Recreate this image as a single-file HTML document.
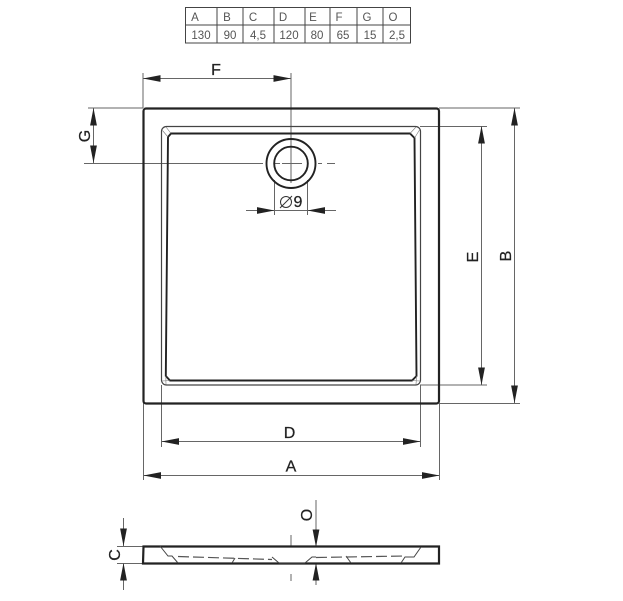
<!DOCTYPE html>
<html>
<head>
<meta charset="utf-8">
<style>
html,body{margin:0;padding:0;background:#fff;width:623px;height:601px;overflow:hidden}
svg{display:block}
text{font-family:"Liberation Sans",sans-serif}
.t{font-size:11.5px;fill:#555;text-anchor:middle}
.l{font-size:16px;fill:#222;stroke:#222;stroke-width:.25;text-anchor:middle}
</style>
</head>
<body>
<svg width="623" height="601" viewBox="0 0 623 601" xmlns="http://www.w3.org/2000/svg">
<defs>
<path id="ar" d="M0 0L17.5 -3.4L17.5 3.4Z" fill="#222"/>
</defs>

<!-- table -->
<g fill="none" stroke="#444" stroke-width="1">
<rect x="185.500" y="7.500" width="225" height="35.500"/>
<path d="M185.500 25H410.500M217 7.500V43M243 7.500V43M274 7.500V43M305 7.500V43M330 7.500V43M357 7.500V43M383 7.500V43"/>
</g>
<g>
<text class="t" x="195" y="21">A</text><text class="t" x="227" y="21">B</text><text class="t" x="253" y="21">C</text><text class="t" x="283" y="21">D</text><text class="t" x="313" y="21">E</text><text class="t" x="339" y="21">F</text><text class="t" x="367" y="21">G</text><text class="t" x="393" y="21">O</text>
<text class="t" x="201" y="39">130</text><text class="t" x="230" y="39">90</text><text class="t" x="258" y="39">4,5</text><text class="t" x="289" y="39">120</text><text class="t" x="317" y="39">80</text><text class="t" x="343" y="39">65</text><text class="t" x="370" y="39">15</text><text class="t" x="397" y="39">2,5</text>
</g>

<!-- dimension thin lines -->
<g fill="none" stroke="#666" stroke-width="1">
<path d="M143 73V108M291 73V183M143 78.500H291"/>
<path d="M88 108H143M439 108H520M439 403.500H520"/>
<path d="M84 163.500H263M275 163.500H280M282 163.500H302M318 163.500H322M327 163.500H335"/>
<path d="M93.500 108V163M514.500 108V403M481.500 126V385"/>
<path d="M420 126.500H487M420 385H487"/>
<path d="M274.500 180V215M307.500 180V215M246 210.500H336"/>
<path d="M161.500 385V447M420.500 385V447M161 441.500H420"/>
<path d="M143.500 403V480M439.500 403V480M143 475.500H439"/>
<path d="M123.500 518V546M123.500 563V590M117 546.500H143M117 563.500H143"/>
<path d="M316 500V547M316 563V585M291 535V546M291 574V581"/>
</g>

<!-- arrowheads -->
<use href="#ar" transform="translate(143,78.500)"/>
<use href="#ar" transform="translate(291,78.500) rotate(180)"/>
<use href="#ar" transform="translate(93.500,108) rotate(90)"/>
<use href="#ar" transform="translate(93.500,163) rotate(-90)"/>
<use href="#ar" transform="translate(514.500,108) rotate(90)"/>
<use href="#ar" transform="translate(514.500,403) rotate(-90)"/>
<use href="#ar" transform="translate(481.500,126) rotate(90)"/>
<use href="#ar" transform="translate(481.500,385) rotate(-90)"/>
<use href="#ar" transform="translate(274.500,210.500) rotate(180)"/>
<use href="#ar" transform="translate(307.500,210.500)"/>
<use href="#ar" transform="translate(161.500,441.500)"/>
<use href="#ar" transform="translate(420.500,441.500) rotate(180)"/>
<use href="#ar" transform="translate(143.500,475.500)"/>
<use href="#ar" transform="translate(439.500,475.500) rotate(180)"/>
<use href="#ar" transform="translate(123.500,546) rotate(-90)"/>
<use href="#ar" transform="translate(123.500,563) rotate(90)"/>
<use href="#ar" transform="translate(316,547) rotate(-90)"/>
<use href="#ar" transform="translate(316,563) rotate(90)"/>

<!-- tray plan -->
<rect x="143.500" y="108.500" width="295.500" height="295" rx="2.500" fill="none" stroke="#222" stroke-width="2.200"/>
<rect x="161.500" y="126.500" width="259" height="258.500" rx="5" fill="none" stroke="#444" stroke-width="1.200"/>
<path d="M171 133.500H410L414.500 138L416.500 376L412 380.500H170L165.800 376L168 137Z" fill="none" stroke="#222" stroke-width="1.900"/>
<path d="M162.500 130.500L168 137M166 127L171 133.500M419.500 130L414.500 138M416 127L410 133.500M162 381L170 380.500M166 384.500L165.800 376M420 381L412 380.500M416 384.500L416.500 376" fill="none" stroke="#777" stroke-width=".6"/>

<!-- drain -->
<circle cx="291" cy="163.500" r="24.500" fill="none" stroke="#222" stroke-width="1.900"/>
<circle cx="291" cy="163.500" r="16.800" fill="none" stroke="#222" stroke-width="1.900"/>

<!-- side view -->
<path d="M143.500 546.500H439V563.500H143Z" fill="none" stroke="#222" stroke-width="2.200"/>
<path d="M160 546L168 556H172L178 563M232 563L235 558M346 556L351 563M401 563L405 557H414L421 547M272 557L279 563H305L312 557H316" fill="none" stroke="#444" stroke-width="1"/>
<path d="M178 556.500L272 559.500M316 557.500L405 556" fill="none" stroke="#555" stroke-width="1.200" stroke-dasharray="11 4"/>

<!-- labels -->
<text class="l" x="216" y="75">F</text>
<text class="l" x="291" y="471.500">A</text>
<text class="l" x="289.500" y="438">D</text>
<text class="l" transform="translate(90,136) rotate(-90)">G</text>
<text class="l" transform="translate(478,257) rotate(-90)">E</text>
<text class="l" transform="translate(511,256) rotate(-90)">B</text>
<text class="l" transform="translate(120,555) rotate(-90)">C</text>
<text class="l" transform="translate(312,515) rotate(-90)">O</text>
<text class="l" x="298" y="207">9</text>
<circle cx="286" cy="202" r="5.500" fill="none" stroke="#333" stroke-width="1"/>
<path d="M280 208L292 196" stroke="#333" stroke-width="1"/>
</svg>
</body>
</html>
